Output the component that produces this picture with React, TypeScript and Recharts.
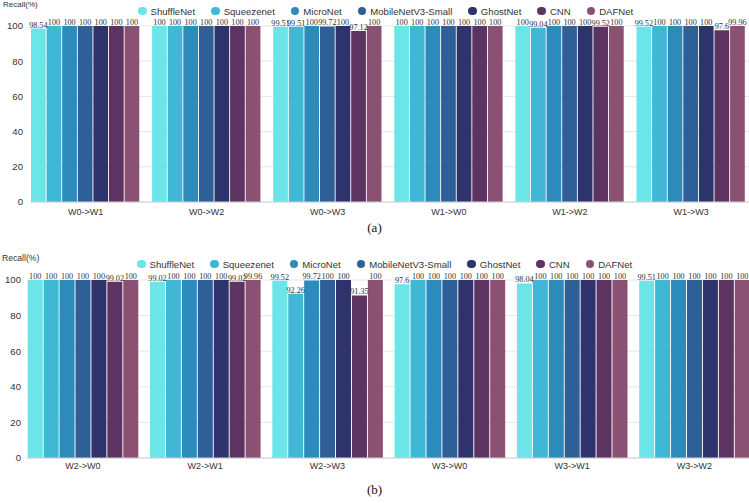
import React from 'react';
import { BarChart, Bar, XAxis, YAxis, CartesianGrid, Legend, LabelList } from 'recharts';

const models = ['ShuffleNet', 'Squeezenet', 'MicroNet', 'MobileNetV3-Small', 'GhostNet', 'CNN', 'DAFNet'];
const modelKeys = ['shuffle', 'squeeze', 'micro', 'mobile', 'ghost', 'cnn', 'daf'];
const colors = ['#6be5e8', '#40b8d5', '#2c8bba', '#2e5f97', '#2f336c', '#5c3361', '#8a5172'];
const yTicks = [0, 20, 40, 60, 80, 100];

// Panel (a)
const categoriesA = ['W0->W1', 'W0->W2', 'W0->W3', 'W1->W0', 'W1->W2', 'W1->W3'];
const shuffleNetA = [98.54, 100, 99.51, 100, 100, 99.52];
const squeezenetA = [100, 100, 99.51, 100, 99.04, 100];
const microNetA = [100, 100, 100, 100, 100, 100];
const mobileNetA = [100, 100, 99.72, 100, 100, 100];
const ghostNetA = [100, 100, 100, 100, 100, 100];
const cnnA = [100, 100, 97.12, 100, 99.52, 97.6];
const dafNetA = [100, 100, 100, 100, 100, 99.96];

// Panel (b)
const categoriesB = ['W2->W0', 'W2->W1', 'W2->W3', 'W3->W0', 'W3->W1', 'W3->W2'];
const shuffleNetB = [100, 99.02, 99.52, 97.6, 98.04, 99.51];
const squeezenetB = [100, 100, 92.26, 100, 100, 100];
const microNetB = [100, 100, 99.72, 100, 100, 100];
const mobileNetB = [100, 100, 100, 100, 100, 100];
const ghostNetB = [100, 100, 100, 100, 100, 100];
const cnnB = [99.02, 99.02, 91.35, 100, 100, 100];
const dafNetB = [100, 99.96, 100, 100, 100, 100];

function buildRows(categories: string[], series: number[][]) {
  return categories.map((c, i) => {
    const row: any = { name: c };
    modelKeys.forEach((k, j) => {
      row[k] = series[j][i];
    });
    return row;
  });
}

const dataA = buildRows(categoriesA, [shuffleNetA, squeezenetA, microNetA, mobileNetA, ghostNetA, cnnA, dafNetA]);
const dataB = buildRows(categoriesB, [shuffleNetB, squeezenetB, microNetB, mobileNetB, ghostNetB, cnnB, dafNetB]);

const SANS = '"Liberation Sans", Arial, sans-serif';
const SERIF = '"Liberation Serif", "Times New Roman", serif';

const renderLegend = (props: any) => {
  const payload = [...(props.payload || [])].sort(
    (a: any, b: any) => models.indexOf(a.value) - models.indexOf(b.value)
  );
  return (
    <div style={{ display: 'flex', alignItems: 'center', fontFamily: SANS, fontSize: 9.6, color: '#333', whiteSpace: 'nowrap', height: 12 }}>
      {payload.map((p: any, i: number) => (
        <div key={p.value} style={{ display: 'flex', alignItems: 'center', marginRight: i < payload.length - 1 ? 16 : 0 }}>
          <span style={{ display: 'inline-block', width: 8.5, height: 8.5, borderRadius: '50%', background: p.color, marginRight: 4 }} />
          <span>{p.value}</span>
        </div>
      ))}
    </div>
  );
};

type PanelCfg = {
  width: number;
  height: number;
  marginTop: number;
  marginRight: number;
  yAxisWidth: number;
  padLeft: number;
  yTickMargin: number;
  xTickMargin: number;
  legendLeft: number;
  legendTop: number;
  barSize: number;
  barGap: number;
};

function Panel({ data, cfg }: { data: any[]; cfg: PanelCfg }) {
  return (
    <BarChart
      width={cfg.width}
      height={cfg.height}
      data={data}
      margin={{ top: cfg.marginTop, right: cfg.marginRight, left: 0, bottom: 0 }}
      barSize={cfg.barSize}
      barGap={cfg.barGap}
    >
      <CartesianGrid vertical={false} stroke="#e0e6f1" />
      <XAxis
        dataKey="name"
        padding={{ left: cfg.padLeft, right: 0 }}
        tickLine={false}
        tickSize={0}
        tickMargin={cfg.xTickMargin}
        axisLine={{ stroke: '#d0d0d0' }}
        tick={{ fontSize: 9, fill: '#333', fontFamily: SANS }}
        height={30}
        interval={0}
      />
      <YAxis
        domain={[0, 100]}
        ticks={yTicks}
        width={cfg.yAxisWidth}
        axisLine={false}
        tickLine={false}
        tickSize={0}
        tickMargin={cfg.yTickMargin}
        tick={{ fontSize: 9.6, fill: '#333', fontFamily: SANS }}
        interval={0}
      />
      <Legend
        layout="horizontal"
        verticalAlign="middle"
        align="center"
        content={renderLegend}
        wrapperStyle={{ position: 'absolute', left: cfg.legendLeft, top: cfg.legendTop, width: 560, height: 12 }}
      />
      {modelKeys.map((k, i) => (
        <Bar key={k} dataKey={k} name={models[i]} fill={colors[i]} isAnimationActive={false}>
          <LabelList
            dataKey={k}
            position="top"
            offset={1}
            style={{ fontSize: 8.2, fill: '#333', fontFamily: SERIF }}
          />
        </Bar>
      ))}
    </BarChart>
  );
}

const cfgA: PanelCfg = {
  width: 752, height: 232, marginTop: 26, marginRight: 0.4, yAxisWidth: 31, padLeft: -6,
  yTickMargin: 8, xTickMargin: 7, legendLeft: 138, legendTop: 5, barSize: 14.7, barGap: 0.9,
};
const cfgB: PanelCfg = {
  width: 756, height: 234, marginTop: 26, marginRight: 0.5, yAxisWidth: 27, padLeft: -5.3,
  yTickMargin: 6, xTickMargin: 4.3, legendLeft: 137, legendTop: 4, barSize: 15, barGap: 0.93,
};

export default function App() {
  return (
    <div style={{ position: 'absolute', left: 0, top: 0, width: 749, height: 503, overflow: 'hidden', background: '#fff' }}>
      <div style={{ position: 'absolute', left: 0, top: 0 }}>
        <Panel data={dataA} cfg={cfgA} />
      </div>
      <div style={{ position: 'absolute', left: 3, top: 0, fontFamily: SANS, fontSize: 8, color: '#333', lineHeight: '10px' }}>Recall(%)</div>
      <div style={{ position: 'absolute', left: 0, top: 220, width: 749, textAlign: 'center', fontFamily: SERIF, fontSize: 13, color: '#111', lineHeight: '16px' }}>(a)</div>

      <div style={{ position: 'absolute', left: 0, top: 254 }}>
        <Panel data={dataB} cfg={cfgB} />
      </div>
      <div style={{ position: 'absolute', left: 2, top: 253, fontFamily: SANS, fontSize: 8.6, color: '#333', lineHeight: '11px' }}>Recall(%)</div>
      <div style={{ position: 'absolute', left: 0, top: 482, width: 749, textAlign: 'center', fontFamily: SERIF, fontSize: 13, color: '#111', lineHeight: '16px' }}>(b)</div>
    </div>
  );
}
